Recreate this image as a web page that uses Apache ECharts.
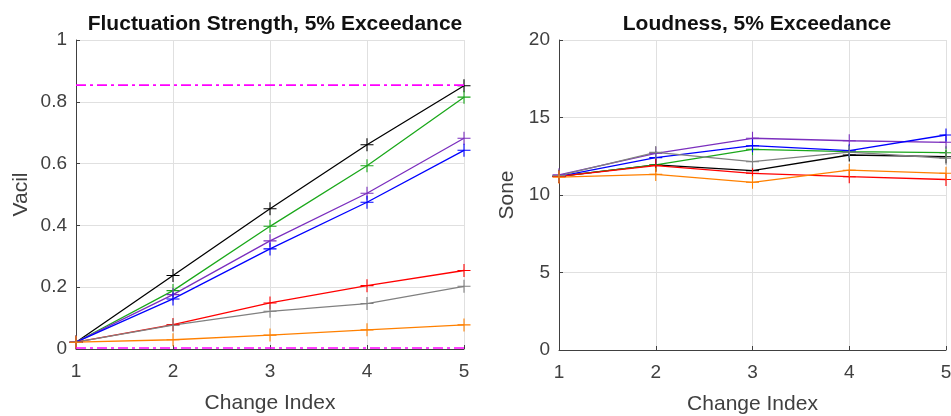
<!DOCTYPE html>
<html><head><meta charset="utf-8">
<script src="https://cdn.jsdelivr.net/npm/echarts@6/dist/echarts.min.js"></script>
<style>html,body{margin:0;padding:0;background:#fff}#c{width:951px;height:416px}</style>
</head><body><div id="c"></div>
<script>
const changeIndex = [1, 2, 3, 4, 5];
const seriesColors = ['#000000', '#1ba81b', '#7b2fbe', '#0000ff', '#ff0000', '#808080', '#ff8000'];
// Fluctuation strength (vacil)
const fsBlack  = [0.022, 0.238, 0.454, 0.661, 0.852];
const fsGreen  = [0.022, 0.189, 0.397, 0.593, 0.815];
const fsPurple = [0.022, 0.176, 0.350, 0.504, 0.682];
const fsBlue   = [0.022, 0.162, 0.324, 0.475, 0.643];
const fsRed    = [0.022, 0.079, 0.149, 0.205, 0.254];
const fsGray   = [0.022, 0.077, 0.122, 0.147, 0.203];
const fsOrange = [0.022, 0.030, 0.045, 0.062, 0.078];
const fsUpperRef = 0.854;
const fsLowerRef = 0.003;
// Loudness (sone)
const ldBlack  = [11.2, 11.94, 11.57, 12.58, 12.47];
const ldGreen  = [11.2, 11.94, 12.95, 12.80, 12.73];
const ldPurple = [11.3, 12.69, 13.66, 13.50, 13.40];
const ldBlue   = [11.2, 12.41, 13.18, 12.86, 13.87];
const ldRed    = [11.2, 11.90, 11.40, 11.18, 11.00];
const ldGray   = [11.25, 12.75, 12.15, 12.77, 12.37];
const ldOrange = [11.15, 11.33, 10.82, 11.60, 11.40];
const yTicksLeft = [0, 0.2, 0.4, 0.6, 0.8, 1];
const yTicksRight = [0, 5, 10, 15, 20];

const fsData = [fsBlack, fsGreen, fsPurple, fsBlue, fsRed, fsGray, fsOrange];
const ldData = [ldBlack, ldGreen, ldPurple, ldBlue, ldRed, ldGray, ldOrange];
const plus = 'path://M5.5,0H6.5V5.5H12V6.5H6.5V12H5.5V6.5H0V5.5H5.5Z';
const font = '"Liberation Sans", Arial, sans-serif';
const axisCol = '#404040';

function pairs(arr){ return arr.map((v,i)=>[changeIndex[i], v]); }
function lineSeries(arr, color, idx){
  return {type:'line', xAxisIndex:idx, yAxisIndex:idx, data:pairs(arr), symbol:plus, symbolSize:13,
    lineStyle:{color, width:1.3}, itemStyle:{color}, animation:false, z:3};
}
function refSeries(val){
  return {type:'line', xAxisIndex:0, yAxisIndex:0, data:[[changeIndex[0],val],[changeIndex[changeIndex.length-1],val]],
    symbol:'none', lineStyle:{color:'#ff00ff', width:1.6, type:[10,4,3,4]}, animation:false, z:4};
}
function xAxis(idx){
  return {type:'value', gridIndex:idx, min:1, max:5, interval:1, name:'Change Index', nameLocation:'middle', nameGap:44,
    nameTextStyle:{fontFamily:font, fontSize:21, color:axisCol},
    axisLine:{onZero:false, lineStyle:{color:axisCol, width:1}},
    axisTick:{inside:true, length:4, lineStyle:{color:axisCol}},
    axisLabel:{fontFamily:font, fontSize:19, color:axisCol, margin:13},
    splitLine:{show:true, lineStyle:{color:'#e0e0e0', width:1}}};
}
function yAxis(idx, max, interval, name, gap){
  return {type:'value', gridIndex:idx, min:0, max, interval, name, nameLocation:'middle', nameGap:gap,
    nameTextStyle:{fontFamily:font, fontSize:21, color:axisCol},
    axisLine:{show:true, lineStyle:{color:axisCol, width:1}},
    axisTick:{show:true, inside:true, length:4, lineStyle:{color:axisCol}},
    axisLabel:{fontFamily:font, fontSize:19, color:axisCol, margin:9},
    splitLine:{show:true, lineStyle:{color:'#e0e0e0', width:1}}};
}
const series = [];
fsData.forEach((d,i)=>series.push(lineSeries(d, seriesColors[i], 0)));
series.push(refSeries(fsUpperRef));
series.push(refSeries(fsLowerRef));
ldData.forEach((d,i)=>series.push(lineSeries(d, seriesColors[i], 1)));

const chart = echarts.init(document.getElementById('c'), null, {renderer:'canvas'});
chart.setOption({
  backgroundColor:'#fff',
  title:[
    {text:'Fluctuation Strength, 5% Exceedance', left:270, top:9, textAlign:'center',
     textStyle:{fontFamily:font, fontSize:21, fontWeight:'bold', color:'#111'}},
    {text:'Loudness, 5% Exceedance', left:752, top:9, textAlign:'center',
     textStyle:{fontFamily:font, fontSize:21, fontWeight:'bold', color:'#111'}}
  ],
  grid:[
    {left:76, right:487, top:40, bottom:67, outerBoundsMode:'none'},
    {left:559, right:5, top:40, bottom:66, outerBoundsMode:'none'}
  ],
  xAxis:[xAxis(0), xAxis(1)],
  yAxis:[yAxis(0, yTicksLeft[yTicksLeft.length-1], 0.2, 'Vacil', 44), yAxis(1, yTicksRight[yTicksRight.length-1], 5, 'Sone', 41)],
  series
});
</script></body></html>
